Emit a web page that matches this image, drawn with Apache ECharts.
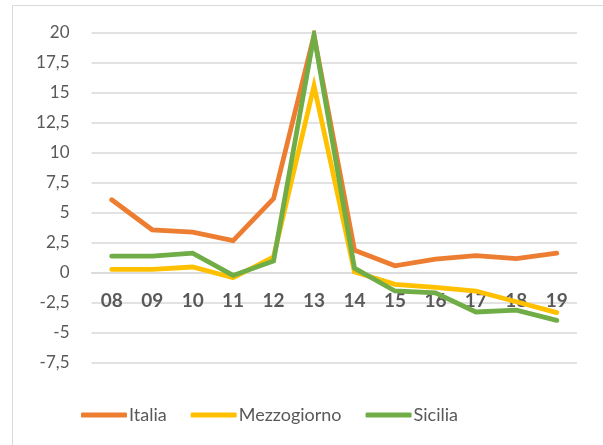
<!DOCTYPE html>
<html>
<head>
<meta charset="utf-8">
<script src="https://cdn.jsdelivr.net/npm/echarts@6/dist/echarts.min.js"></script>
<style>
html,body{margin:0;padding:0;background:#fff;}
#c{width:603px;height:445px;}
</style>
</head>
<body>
<div id="c"></div>
<script>
const categories = ['08','09','10','11','12','13','14','15','16','17','18','19'];
const italia = [6.1, 3.6, 3.4, 2.7, 6.2, 19.8, 1.9, 0.6, 1.15, 1.45, 1.2, 1.65];
const mezzogiorno = [0.3, 0.3, 0.5, -0.4, 1.35, 15.6, 0.1, -0.95, -1.2, -1.5, -2.4, -3.3];
const sicilia = [1.4, 1.4, 1.65, -0.2, 1.0, 19.8, 0.4, -1.5, -1.65, -3.25, -3.1, -3.95];
const seriesNames = ['Italia', 'Mezzogiorno', 'Sicilia'];
const colors = ['#ED7D31', '#FFC000', '#70AD47'];

const chart = echarts.init(document.getElementById('c'), null, {renderer: 'canvas'});
const font = 'Lato';
const mk = (name, data, color) => ({
  name, type: 'line', data, symbol: 'none', smooth: false,
  lineStyle: {color, width: 4.8, cap: 'round', join: 'miter'},
  itemStyle: {color}
});
chart.setOption({
  animation: false,
  graphic: [{
    type: 'rect', shape: {x: 12.5, y: 5.5, width: 620, height: 460},
    style: {fill: 'none', stroke: '#D9D9D9', lineWidth: 1}, silent: true
  }],
  grid: {left: 91.5, right: 26, top: 33, bottom: 82},
  legend: {
    data: seriesNames, top: 401, left: 76,
    icon: 'roundRect', itemWidth: 46, itemHeight: 5, itemGap: 24,
    textStyle: {fontFamily: font, fontSize: 18, color: '#595959', padding: [0,0,0,-3]}
  },
  xAxis: {
    type: 'category', data: categories, boundaryGap: true,
    position: 'bottom', offset: -90,
    axisLine: {show: true, onZero: false, lineStyle: {color: '#D9D9D9', width: 1.5}},
    axisTick: {show: false},
    axisLabel: {fontFamily: font, fontSize: 19, fontWeight: 'bold', color: '#595959', margin: 18}
  },
  yAxis: {
    type: 'value', min: -7.5, max: 20, interval: 2.5,
    axisLine: {show: false}, axisTick: {show: false},
    splitLine: {lineStyle: {color: '#D9D9D9', width: 1.5}},
    axisLabel: {fontFamily: font, fontSize: 17, color: '#595959', margin: 22,
      formatter: v => String(v).replace('.', ',')}
  },
  series: [
    mk(seriesNames[0], italia, colors[0]),
    mk(seriesNames[1], mezzogiorno, colors[1]),
    mk(seriesNames[2], sicilia, colors[2])
  ]
});
</script>
</body>
</html>
